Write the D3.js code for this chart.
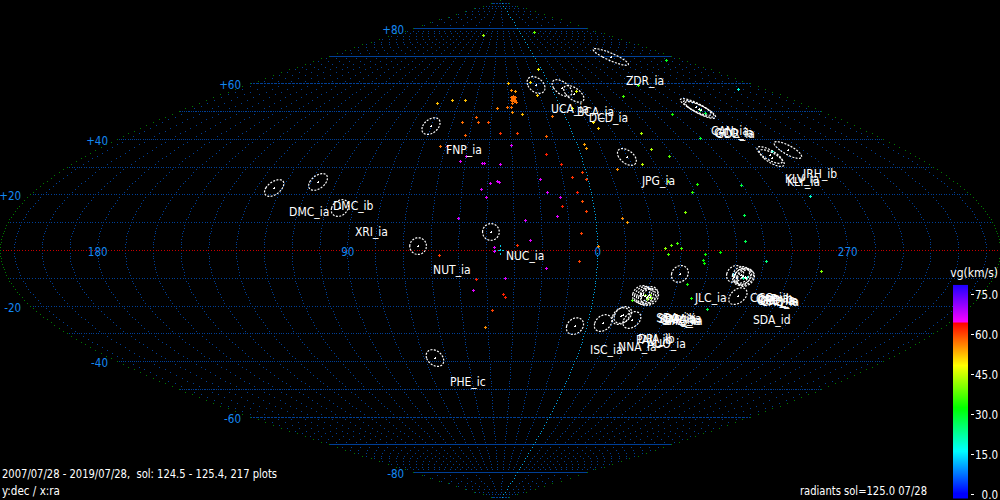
<!DOCTYPE html>
<html>
<head>
<meta charset="utf-8">
<script src="https://cdn.jsdelivr.net/npm/d3@7"></script>
<style>
  html, body { margin: 0; padding: 0; background: #000; overflow: hidden; }
  svg { display: block; }
  text { font-family: "DejaVu Sans Condensed", "DejaVu Sans", sans-serif; font-size: 12px; font-stretch: condensed; }
</style>
</head>
<body>
<div id="chart"></div>
<script>
/* radiant plots: ra (deg), dec (deg), geocentric velocity (km/s) */
const pointRa = [
  63.1,333.7,2.4,29.2,13.1,27.6,25,11.3,26.7,28.1,25.6,27.5,26.3,27,28.3,27,25.8,27.7,26.5,25.4,27.8,31,28.6,28.3,36.7,22.9,
  72.6,64.4,56.4,54.7,47.9,46.4,41.2,51.8,35,26.7,62.2,59,6.9,353.7,346.7,346,13,356.5,356.4,14.9,9.4,30,49.7,52,42.6,41.7,35,
  346.8,335.4,327.5,321.8,326.5,300.7,316.9,297.4,232.7,344.4,1.5,0.7,6.1,19,38.9,36.2,35.4,42.4,16.9,5.3,40.3,12.1,4,11.8,3.1,
  14,25.8,50.4,350.2,348.6,5.7,24.2,28.9,37.2,37.2,359.7,57,6.5,18.3,43.8,33.2,45,33.9,33.1,38.1,41.1,233.5,300.5,282,281.8,
  317.5,321,300.5,276.7,274.5,328.4,326.5,305,335.6,333.4,331.3,329.8,334.5,321.2,315.8,306.8,321.9,321.3,299,326.1,323,315.1,
  345,340.6,339.3,338.8,339.5,338.1,310.2,305.5,306.2,304.8,278.4
];
const pointDec = [
  77.4,78.5,65.2,60.1,60.5,57.6,57.2,55.8,55.4,55.1,55.1,54.7,54.7,54.4,54,54,54,53.6,53.6,53.3,52.9,51.5,51.5,49.7,51.1,49,
  52.9,54,54,46.1,47.9,46.1,46.1,41.4,42.1,42.1,37.4,37.4,48.2,51.1,46.1,43.9,41,38.2,36.7,34.6,31,37.8,33.8,32,31.3,31.3,31,
  29.2,31,36.4,33.8,42.1,49,55.4,59.4,68.4,57.2,28.1,25.6,26.3,25.6,24.1,24.8,24.5,22,20.9,20.9,19.1,19.1,17.6,15.8,14,
  12.2,10.8,11.5,11.5,10.1,6.1,3.6,1.8,1.1,-0.4,1.4,-1.8,-4,-6.5,-10.4,-10.1,-14.4,-15.8,-16.9,-21.6,-27.7,58,40.3,50.4,49.3,
  23.8,20.9,23.4,19.4,35.6,24.8,13.7,12.6,0.7,1.8,2.5,0.7,-1.4,-1.4,-0.7,3.2,-3.6,-4.7,-4,-12.2,-17.3,-21.2,
  -18,-16.2,-16.9,-16.2,-17.6,-17.3,-8.6,-9.7,-10.1,-9.7,-7.6
];
const pointVg = [
  42,38,47,52,50,55,54,51,57,57,57,57,57,57,57,57,57,57,57,57,57,57,57,55,56,52,
  52,52,52,57,58,58,59,58,61,60,57,61,57,47,49,51,58,54,54,62,62,66,66,66,66,66,66,
  55,44,43,37,43,33,36,35,30,46,60,60,61,66,66,66,66,66,66,62,66,66,59,62,60,
  66,66,66,55,54,60,66,61,66,66,55,60,60,66,62,66,66,62,62,60,55,18,29,28,27,
  34,35,28,19,19,40,40,27,41,38,36,36,37,33,32,27,32,32,24,33,33,28,
  36,40,40,40,40,40,14,22,22,20,40
];

/* shower circles */
const showerNames = [
  "DMC_ia","DMC_ib","XRI_ia","FNP_ia","NUT_ia","NUC_ia","PHE_ic","UCA_ia","BCA_ia","DCD_ia","ZDR_ia","JPG_ia",
  "CAN_ia","GCO_ia","GDR_ia","KLV_ia","KLY_ia","JRH_ib","ISC_ia","NNA_ia","PAU_ib","DPA_ib","AUO_ia",
  "SDA_ia","SDA_ib","CAP_ia","SMA_ia","SOA_ia","SAG_ia","JLC_ia","SDA_id",
  "CCO_ia","CAP_ib","CPD_ia","OPH_ia","CAQ_ia","OCP_ia"
];
const showerRa = [
  122.9,107,94.7,69.9,64.5,38.3,65.1,9.5,352.5,347.2,281,340.2,
  281.7,281.7,281.7,277.5,278.1,266.8,4.6,353.6,347.4,346.8,342.5,
  342.2,341.4,340.5,339.7,339.1,338.6,329.5,305.6,
  309.4,307.2,306.3,305.5,305.1,306.6
];
const showerDec = [
  22.3,24.5,15.1,44.6,1.4,6.5,-38.9,59.4,58.3,56.2,69.5,33.5,
  51.5,50.8,50.4,34.2,33.1,36,-27.4,-26.3,-23.8,-23.4,-25.2,
  -15.8,-16.2,-16.6,-16.9,-16.2,-16.9,-8.6,-16.6,
  -8.6,-9,-9.4,-9.7,-10.1,-9.7
];

/* axes */
const decLabels = [80,60,40,20,-20,-40,-60,-80];
const raLabels = [180,90,0,270];
const vgTicks = [0,15,30,45,60,75];
const infoLines = ["2007/07/28 - 2019/07/28,  sol: 124.5 - 125.4, 217 plots","y:dec / x:ra"];
const footerRight = "radiants sol=125.0 07/28";

const width = 1000, height = 500;
const centerRa = 35;
const circleRadius = 3;
const axisColor = "#1488f2";

const xScale = d3.scaleLinear().domain([-180,180]).range([0,width]);
const yScale = d3.scaleLinear().domain([90,-90]).range([0,height]);
const vgY = d3.scaleLinear().domain([0,75]).range([494,294]);

const rad = Math.PI/180;
/* sinusoidal projection, ra grows to the left */
function projX(ra, dec) {
  const off = ((centerRa - ra + 540) % 360) - 180;
  return xScale(off*Math.cos(dec*rad));
}
function lonX(off, dec) { return xScale(off*Math.cos(dec*rad)); }

const colorLow = d3.scaleLinear().domain([0,16,32,48,64]).range(["#0000ff","#00ffff","#00ff00","#ffff00","#ff0000"]);
const colorHigh = d3.scaleLinear().domain([64,80]).range(["#ff00ff","#0000ff"]);
const vgColor = v => v < 64 ? colorLow(v) : colorHigh(v);

const svg = d3.select("#chart").append("svg").attr("width",width).attr("height",height);
svg.append("rect").attr("width",width).attr("height",height).attr("fill","#000");

function dots(list, color) {
  const p = d3.path();
  list.forEach(d => p.rect(Math.round(d[0]),Math.round(d[1]),1,1));
  svg.append("path").attr("d",p.toString()).attr("fill",color).attr("shape-rendering","crispEdges");
}

/* grid */
const decGrid = d3.range(-80,81,10);
const meridianOffsets = d3.range(-175,176,10); // ra 210 ... 220, so 35 - ra lands on x5
const parallelPts = [];
decGrid.filter(d => d !== 0).forEach(dec => {
  d3.range(-180,181,1).forEach(l => parallelPts.push([lonX(l,dec),yScale(dec)]));
});
dots(parallelPts,"#003f96");
const meridianPts = [];
meridianOffsets.filter(o => o !== 35).forEach(o => {
  // near the poles only every third meridian goes on
  const lim = (centerRa - o + 360) % 30 === 0 ? 90 : 80;
  d3.range(-lim,lim + 1,1).forEach(dec => meridianPts.push([lonX(o,dec),yScale(dec)]));
});
dots(meridianPts,"#003f96");
dots(d3.range(-90,91,1).map(dec => [lonX(35,dec),yScale(dec)]),"#00a5e6");
dots(d3.range(-180,181,1).map(l => [lonX(l,0),yScale(0)]),"#c80000");
const rimPts = [];
d3.range(-90,91,1).forEach(dec => { rimPts.push([lonX(-180,dec),yScale(dec)]); rimPts.push([lonX(180,dec),yScale(dec)]); });
dots(rimPts,"#007a00");

/* centre cross */
svg.append("path").attr("d","M494 250H505M500 245V255").attr("stroke","#00c8e6").attr("stroke-dasharray","2 2")
  .attr("fill","none").attr("shape-rendering","crispEdges");

/* axis labels */
svg.selectAll(".dec-label").data(decLabels).enter().append("text")
  .attr("class","dec-label")
  .attr("x",d => lonX(-180,d) - 9)
  .attr("y",d => yScale(d) + 6)
  .attr("text-anchor","end")
  .attr("fill",axisColor)
  .style("font-size","11.5px")
  .text(d => (d > 0 ? "+" : "") + d);
svg.selectAll(".ra-label").data(raLabels).enter().append("text")
  .attr("class","ra-label")
  .attr("x",d => projX(d,0) + 0.5)
  .attr("y",yScale(0) + 6)
  .attr("text-anchor","middle")
  .attr("fill",axisColor)
  .style("font-size","11.5px")
  .text(d => d);

/* plots */
svg.selectAll(".plot").data(pointRa).enter().append("path")
  .attr("class","plot")
  .attr("shape-rendering","crispEdges")
  .attr("fill",(d,i) => vgColor(pointVg[i]))
  .attr("d",(d,i) => {
    const x = Math.round(projX(d,pointDec[i])), y = Math.round(yScale(pointDec[i]));
    const p = d3.path();
    p.rect(x-1,y,3,1);
    p.rect(x,y-1,1,3);
    return p.toString();
  });

/* shower circles */
const circleLine = d3.line().x(d => d[0]).y(d => d[1]).curve(d3.curveLinearClosed);
const thetas = d3.range(0,360,6);
svg.selectAll(".shower").data(showerRa).enter().append("path")
  .attr("class","shower")
  .attr("fill","none")
  .attr("stroke","#fff")
  .attr("stroke-width",1.2)
  .attr("stroke-dasharray","2 1.4")
  .attr("d",(d,i) => circleLine(thetas.map(t => {
    const dec = showerDec[i] + circleRadius*Math.sin(t*rad);
    const ra = d + circleRadius*Math.cos(t*rad)/Math.cos(dec*rad);
    return [projX(ra,dec),yScale(dec)];
  })));
svg.selectAll(".tick-mark").data(showerRa).enter().append("path")
  .attr("class","tick-mark")
  .attr("fill","none")
  .attr("stroke","#fff")
  .attr("d",(d,i) => {
    const x = Math.round(projX(d,showerDec[i])), y = Math.round(yScale(showerDec[i]));
    return `M${x-1} ${y+0.5}H${x+1}M${x+0.5} ${y+0.5}V${y-1.5}`;
  })
  .attr("shape-rendering","crispEdges");
svg.selectAll(".shower-label").data(showerNames).enter().append("text")
  .attr("class","shower-label")
  .attr("x",(d,i) => projX(showerRa[i],showerDec[i]) + 15)
  .attr("y",(d,i) => yScale(showerDec[i]) + 28)
  .attr("fill","#fff")
  .text(d => d);

/* colour bar */
const barValues = d3.range(-1.5,78.4,0.75);
svg.selectAll(".bar-step").data(barValues).enter().append("rect")
  .attr("class","bar-step")
  .attr("x",953)
  .attr("width",15)
  .attr("y",d => vgY(Math.min(d + 0.75,78.4)))
  .attr("height",d => vgY(d) - vgY(Math.min(d + 0.75,78.4)) + 0.5)
  .attr("fill",d => vgColor(d < 0 ? 0 : d));
svg.selectAll(".bar-tick").data(vgTicks).enter().append("line")
  .attr("class","bar-tick")
  .attr("x1",971).attr("x2",974)
  .attr("y1",d => Math.round(vgY(d)) + 0.5).attr("y2",d => Math.round(vgY(d)) + 0.5)
  .attr("stroke","#fff")
  .attr("shape-rendering","crispEdges");
svg.selectAll(".bar-label").data(vgTicks).enter().append("text")
  .attr("class","bar-label")
  .attr("x",998)
  .attr("y",d => vgY(d) + 4.5)
  .attr("text-anchor","end")
  .attr("fill","#fff")
  .style("font-size","11.5px")
  .text(d => d.toFixed(1));
svg.append("text").attr("x",998).attr("y",277).attr("text-anchor","end").attr("fill","#fff").text("vg(km/s)");

/* footer */
svg.selectAll(".info").data(infoLines).enter().append("text")
  .attr("class","info")
  .attr("x",2)
  .attr("y",(d,i) => 478 + i*17)
  .attr("textLength",(d,i) => i === 0 ? 275 : 58)
  .attr("lengthAdjust","spacingAndGlyphs")
  .style("white-space","pre")
  .attr("fill","#fff")
  .text(d => d);
svg.append("text").attr("x",800).attr("y",495)
  .attr("textLength",127).attr("lengthAdjust","spacingAndGlyphs")
  .attr("fill","#fff").text(footerRight);
</script>
</body>
</html>
